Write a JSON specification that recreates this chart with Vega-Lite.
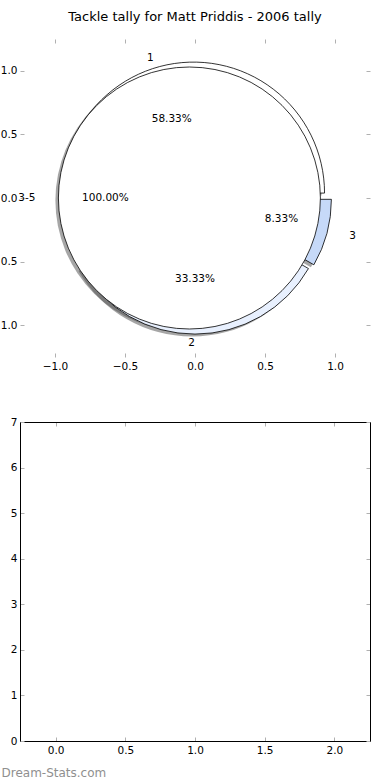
{
  "$schema": "https://vega.github.io/schema/vega-lite/v6.json",
  "padding": {"left": 0, "top": 10, "right": 0, "bottom": 0},
  "background": "#ffffff",
  "datasets": {
    "wedges": [
      {"label": "1", "pie": "A", "start": 0, "end": 58.33, "cx": -0.0104, "cy": 0.0386},
      {"label": "2", "pie": "A", "start": 58.33, "end": 91.67, "cx": 0, "cy": -0.04},
      {"label": "3", "pie": "A", "start": 91.67, "end": 100, "cx": 0.0386, "cy": -0.0104},
      {"label": "3-5", "pie": "B", "start": 0, "end": 100, "cx": -0.04, "cy": 0}
    ],
    "names": [
      {"text": "1", "lx": -0.295, "ly": 1.101},
      {"text": "2", "lx": 0, "ly": -1.14},
      {"text": "3", "lx": 1.101, "ly": -0.295},
      {"text": "3-5", "lx": -1.14, "ly": 0}
    ],
    "pcts": [
      {"text": "58.33%", "lx": -0.166, "ly": 0.618},
      {"text": "33.33%", "lx": 0, "ly": -0.64},
      {"text": "8.33%", "lx": 0.618, "ly": -0.166},
      {"text": "100.00%", "lx": -0.64, "ly": 0}
    ],
    "tally": [
      {"pos": 0, "tackles": 0},
      {"pos": 1, "tackles": 0},
      {"pos": 2, "tackles": 0}
    ]
  },
  "vconcat": [
    {
      "width": 350,
      "height": 318,
      "title": {"text": "Tackle tally for Matt Priddis - 2006 tally", "fontSize": 13, "font": "DejaVu Sans", "fontWeight": "normal", "anchor": "middle", "frame": "group", "offset": 5, "baseline": "alphabetic", "color": "#000000"},
      "layer": [
        {
          "data": {"name": "wedges"},
          "mark": {"type": "arc", "outerRadius": 131, "fill": "#4d4d4d", "opacity": 0.5, "xOffset": -3, "yOffset": 2.5},
          "encoding": {
            "x": {"field": "cx", "type": "quantitative", "scale": {"domain": [-1.25, 1.25], "nice": false, "zero": false},
                  "axis": {"orient": "bottom", "values": [-1, -0.5, 0, 0.5, 1], "format": ".1f", "title": null}},
            "y": {"field": "cy", "type": "quantitative", "scale": {"domain": [-1.25, 1.25], "nice": false, "zero": false},
                  "axis": {"orient": "left", "values": [-1, -0.5, 0, 0.5, 1], "labelExpr": "format(abs(datum.value), '.1f')", "labelPadding": 7, "title": null}},
            "theta": {"field": "start", "type": "quantitative", "scale": {"domain": [0, 100], "range": [1.5708, -4.7124]}},
            "theta2": {"field": "end"}
          }
        },
        {
          "data": {"name": "wedges"},
          "mark": {"type": "arc", "outerRadius": 131, "stroke": "#000000", "strokeWidth": 0.8},
          "encoding": {
            "x": {"field": "cx", "type": "quantitative", "scale": {"domain": [-1.25, 1.25], "nice": false, "zero": false},
                  "axis": {"orient": "top", "values": [-1, -0.5, 0, 0.5, 1], "labels": false, "title": null}},
            "y": {"field": "cy", "type": "quantitative", "scale": {"domain": [-1.25, 1.25], "nice": false, "zero": false},
                  "axis": {"orient": "right", "values": [-1, -0.5, 0, 0.5, 1], "labels": false, "title": null}},
            "theta": {"field": "start", "type": "quantitative", "scale": {"domain": [0, 100], "range": [1.5708, -4.7124]}},
            "theta2": {"field": "end"},
            "color": {"field": "label", "type": "nominal", "scale": {"domain": ["1", "2", "3", "3-5"], "range": ["#ffffff", "#e8f0fe", "#c6d9f8", "#ffffff"]}, "legend": null}
          }
        },
        {
          "data": {"name": "names"},
          "transform": [{"filter": "datum.lx <= 0"}],
          "mark": {"type": "text", "align": "right", "baseline": "middle", "font": "DejaVu Sans", "fontSize": 10.5, "color": "#000000"},
          "encoding": {
            "x": {"field": "lx", "type": "quantitative", "scale": {"domain": [-1.25, 1.25], "nice": false, "zero": false}, "axis": null},
            "y": {"field": "ly", "type": "quantitative", "scale": {"domain": [-1.25, 1.25], "nice": false, "zero": false}, "axis": null},
            "text": {"field": "text", "type": "nominal"}
          }
        },
        {
          "data": {"name": "names"},
          "transform": [{"filter": "datum.lx > 0"}],
          "mark": {"type": "text", "align": "left", "baseline": "middle", "font": "DejaVu Sans", "fontSize": 10.5, "color": "#000000"},
          "encoding": {
            "x": {"field": "lx", "type": "quantitative", "scale": {"domain": [-1.25, 1.25], "nice": false, "zero": false}, "axis": null},
            "y": {"field": "ly", "type": "quantitative", "scale": {"domain": [-1.25, 1.25], "nice": false, "zero": false}, "axis": null},
            "text": {"field": "text", "type": "nominal"}
          }
        },
        {
          "data": {"name": "pcts"},
          "mark": {"type": "text", "align": "center", "baseline": "middle", "font": "DejaVu Sans", "fontSize": 10.5, "color": "#000000"},
          "encoding": {
            "x": {"field": "lx", "type": "quantitative", "scale": {"domain": [-1.25, 1.25], "nice": false, "zero": false}, "axis": null},
            "y": {"field": "ly", "type": "quantitative", "scale": {"domain": [-1.25, 1.25], "nice": false, "zero": false}, "axis": null},
            "text": {"field": "text", "type": "nominal"}
          }
        }
      ],
      "resolve": {"axis": {"x": "independent", "y": "independent"}}
    },
    {
      "width": 350,
      "height": 319,
      "data": {"name": "tally"},
      "layer": [
        {
          "mark": {"type": "bar", "opacity": 0},
          "encoding": {
            "x": {"field": "pos", "type": "quantitative", "scale": {"domain": [-0.22, 2.22], "nice": false, "zero": false},
                  "axis": {"orient": "bottom", "values": [0, 0.5, 1, 1.5, 2], "format": ".1f", "domain": true,
                           "title": "Dream-Stats.com", "titleAnchor": "start", "titleAlign": "left", "titleX": -19, "titleY": 31, "titleBaseline": "middle", "titleColor": "#8f8f8f", "titleFontSize": 12, "titleFontWeight": "normal", "titleFont": "DejaVu Sans"}},
            "y": {"field": "tackles", "type": "quantitative", "scale": {"domain": [0, 7], "nice": false, "zero": false},
                  "axis": {"orient": "left", "values": [0, 1, 2, 3, 4, 5, 6, 7], "format": "d", "domain": true, "labelPadding": 7, "title": null}}
          }
        },
        {
          "mark": {"type": "bar", "opacity": 0},
          "encoding": {
            "x": {"field": "pos", "type": "quantitative", "scale": {"domain": [-0.22, 2.22], "nice": false, "zero": false},
                  "axis": {"orient": "top", "values": [0, 0.5, 1, 1.5, 2], "labels": false, "domain": true, "title": null}},
            "y": {"field": "tackles", "type": "quantitative", "scale": {"domain": [0, 7], "nice": false, "zero": false},
                  "axis": {"orient": "right", "values": [0, 1, 2, 3, 4, 5, 6, 7], "labels": false, "domain": true, "title": null}}
          }
        }
      ],
      "resolve": {"axis": {"x": "independent", "y": "independent"}}
    }
  ],
  "spacing": 65,
  "bounds": "flush",
  "config": {
    "view": {"stroke": null},
    "font": "DejaVu Sans",
    "axis": {
      "grid": false,
      "domain": false,
      "domainColor": "#000000",
      "domainWidth": 1,
      "tickColor": "#b0b0b0",
      "tickSize": -4,
      "tickWidth": 1,
      "labelPadding": 8,
      "labelFont": "DejaVu Sans",
      "labelFontSize": 10.5,
      "labelColor": "#000000",
      "labelFlush": false,
      "labelOverlap": false,
      "labelBound": false
    }
  }
}
